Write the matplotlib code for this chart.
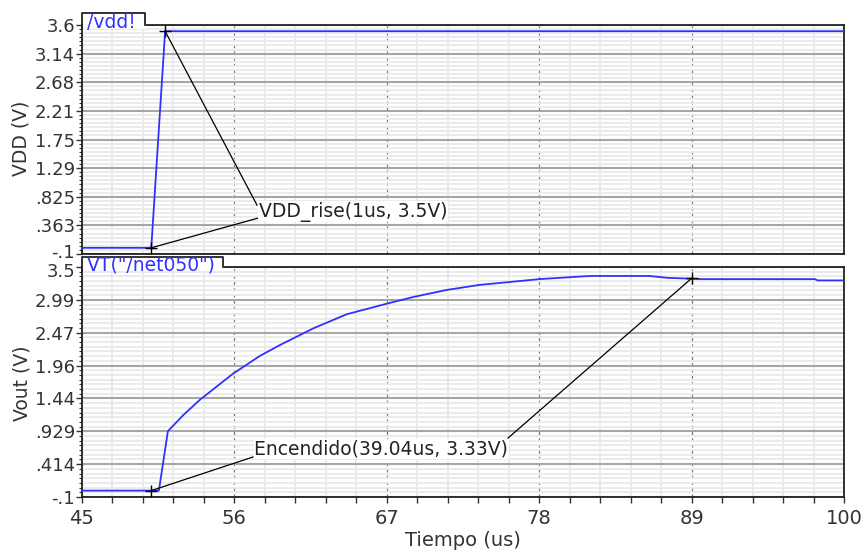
import matplotlib
matplotlib.use("Agg")
import matplotlib.pyplot as plt
import numpy as np
from matplotlib.ticker import AutoMinorLocator
from matplotlib.patches import Rectangle
from matplotlib.transforms import ScaledTranslation

t_vdd = [45, 50, 51, 100]
v_vdd = [0, 0, 3.5, 3.5]

t_out = [45, 50.55, 51.2, 52.3, 53.5, 55.9, 57.85, 59.3, 61.7, 64.1, 66.9, 68.9,
         71.3, 73.7, 76.1, 78.0, 80.9, 81.8, 85.9, 87.3, 89.8, 97.9, 98.1, 100]
v_out = [0, 0, 0.93, 1.18, 1.42, 1.83, 2.11, 2.28, 2.54, 2.76, 2.92, 3.03,
         3.14, 3.22, 3.27, 3.31, 3.35, 3.36, 3.36, 3.33, 3.31, 3.31, 3.29, 3.29]

rise_t = [50, 51]
rise_v = [0, 3.5]
on_t = [50, 89.04]
on_v = [0, 3.33]

x_ticks = [45, 56, 67, 78, 89, 100]
vdd_labels = ["-.1", ".363", ".825", "1.29", "1.75", "2.21", "2.68", "3.14", "3.6"]
vout_labels = ["-.1", ".414", ".929", "1.44", "1.96", "2.47", "2.99", "3.5"]

BLUE = "#3030ff"
TXT = "#333333"
W, H = 863, 550


def box(l, t, r, b):
    return [l / W, 1 - b / H, (r - l) / W, (b - t) / H]


def style(ax, lo, hi, labels, show_x):
    ax.set_xlim(45, 100)
    ax.set_ylim(lo, hi)
    ax.set_xticks(x_ticks)
    ax.set_yticks(np.linspace(lo, hi, len(labels)))
    ax.set_yticklabels(labels)
    ax.xaxis.set_minor_locator(AutoMinorLocator(5))
    ax.yaxis.set_minor_locator(AutoMinorLocator(7))
    ax.grid(which="minor", color="#e9e9e9", lw=1.3)
    ax.grid(which="major", axis="y", color="#a6a6a6", lw=1.5)
    ax.grid(which="major", axis="x", color="#7a7a7a", lw=0.9, ls=(0, (2.5, 2.5)))
    ax.set_axisbelow(True)
    ax.tick_params(axis="y", which="major", length=4, width=1, pad=1,
                   labelsize=13, colors=TXT)
    ax.tick_params(axis="y", which="minor", length=2.5, width=0.8, colors=TXT)
    if show_x:
        ax.tick_params(axis="x", which="both", length=4, width=1, pad=5,
                       labelsize=14, colors=TXT)
    else:
        ax.tick_params(axis="x", which="both", length=0, labelbottom=False)
    for s in ax.spines.values():
        s.set_color("#222222")
        s.set_linewidth(1.3)


def tab(ax, name, width_px, height_px):
    ah = ax.get_position().height * H
    w = width_px / 762
    h = height_px / ah
    ax.add_patch(Rectangle((0.001, 1 - 4 / ah), w, h + 4 / ah, transform=ax.transAxes,
                           fc="white", ec="none", clip_on=False, zorder=4))
    ax.plot([0, 0, w, w], [1 - 4 / ah, 1 + h, 1 + h, 1], color="#222222", lw=1.3,
            transform=ax.transAxes, clip_on=False, zorder=5)
    ax.text(0.007, 1 + 2 / ah, name, transform=ax.transAxes, color=BLUE,
            fontsize=13.5, ha="left", va="center", zorder=6)


fig = plt.figure(figsize=(8.63, 5.5), dpi=100)
ax1 = fig.add_axes(box(82, 25, 844, 254))
ax2 = fig.add_axes(box(82, 267, 844, 497))

style(ax1, -0.1, 3.6, vdd_labels, False)
style(ax2, -0.1, 3.5, vout_labels, True)

# the two panels sit tight together: pull the touching labels apart a little
lab = ax1.yaxis.get_major_ticks()[0].label1
lab.set_transform(lab.get_transform() + ScaledTranslation(0, 2.5 / 72, fig.dpi_scale_trans))
lab = ax2.yaxis.get_major_ticks()[-1].label1
lab.set_transform(lab.get_transform() + ScaledTranslation(0, -2 / 72, fig.dpi_scale_trans))

ax1.plot(t_vdd, v_vdd, color=BLUE, lw=1.3, zorder=3)
ax2.plot(t_out, v_out, color=BLUE, lw=1.3, zorder=3)

# marker annotations
ax1.plot([rise_t[0], 57.7], [rise_v[0], 0.48], color="k", lw=0.9, zorder=4)
ax1.plot([rise_t[1], 57.63], [rise_v[1], 0.69], color="k", lw=0.9, zorder=4)
ax1.plot(rise_t, rise_v, "+", color="k", ms=8, mew=1, zorder=6)
ax1.text(57.75, 0.585, "VDD_rise(1us, 3.5V)", fontsize=13.5, color="#222222",
         ha="left", va="center", zorder=5,
         bbox=dict(fc="white", ec="none", pad=0.5))

ax2.plot([on_t[0], 57.34], [on_v[0], 0.526], color="k", lw=0.9, zorder=4)
ax2.plot([on_t[1], 75.75], [on_v[1], 0.823], color="k", lw=0.9, zorder=4)
ax2.plot(on_t, on_v, "+", color="k", ms=8, mew=1, zorder=6)
ax2.text(57.45, 0.655, "Encendido(39.04us, 3.33V)", fontsize=13.5, color="#222222",
         ha="left", va="center", zorder=5,
         bbox=dict(fc="white", ec="none", pad=0.5))

tab(ax1, "/vdd!", 63, 12)
tab(ax2, 'VT("/net050")', 141, 10)

fig.text(21 / W, 1 - 138 / H, "VDD (V)", rotation=90, ha="center", va="center",
         fontsize=13.5, color=TXT)
fig.text(21.5 / W, 1 - 383 / H, "Vout (V)", rotation=90, ha="center", va="center",
         fontsize=13.5, color=TXT)
fig.text(463 / W, 1 - 541 / H, "Tiempo (us)", ha="center", va="center",
         fontsize=14, color=TXT)

fig.savefig("out.png", dpi=100)
